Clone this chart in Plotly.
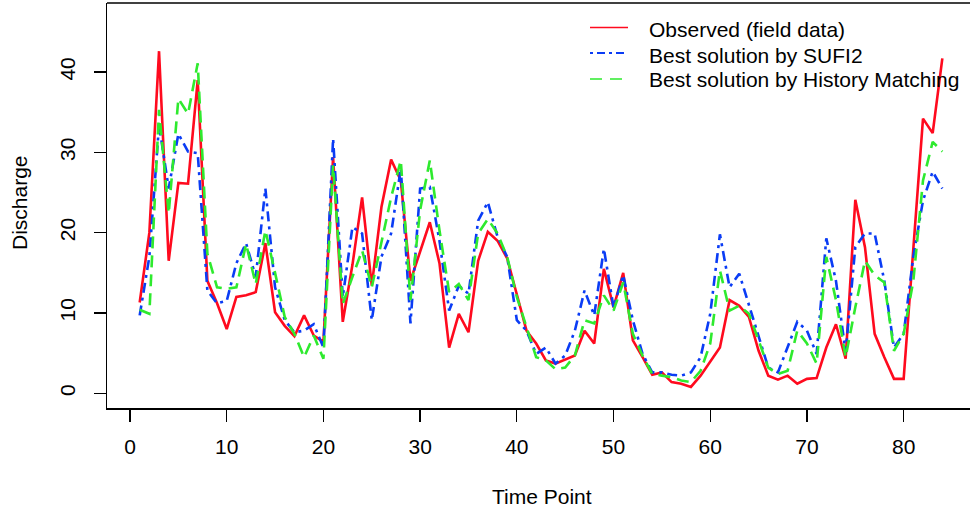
import plotly.graph_objects as go

time_point = list(range(1, 85))

observed = [11.3, 20.0, 42.6, 16.5, 26.2, 26.1, 39.0, 14.0, 11.2, 8.0,
            12.0, 12.2, 12.6, 18.7, 10.1, 8.4, 7.1, 9.7, 7.2, 6.4,
            29.4, 8.9, 16.0, 24.4, 13.4, 23.2, 29.1, 26.5, 14.0, 17.8,
            21.3, 16.2, 5.7, 9.9, 7.6, 16.5, 20.1, 19.0, 16.8, 12.3,
            7.8, 6.2, 4.1, 3.7, 4.2, 4.7, 7.8, 6.2, 15.5, 10.7,
            15.0, 6.6, 4.5, 2.3, 2.6, 1.4, 1.2, 0.8, 2.2, 4.0,
            5.7, 11.6, 10.9, 9.5, 5.3, 2.2, 1.7, 2.2, 1.2, 1.8,
            1.9, 5.7, 8.6, 4.3, 24.1, 18.2, 7.4, 4.5, 1.8, 1.8,
            18.0, 34.2, 32.4, 41.7]

sufi2 = [9.7, 17.0, 33.4, 25.5, 32.3, 30.1, 29.9, 12.8, 11.2, 11.5,
         16.2, 18.7, 14.5, 25.5, 13.2, 9.1, 7.6, 7.8, 8.6, 5.7,
         31.7, 12.0, 20.7, 19.9, 9.1, 17.0, 19.9, 28.0, 8.7, 25.5,
         25.7, 19.0, 10.3, 13.4, 12.4, 21.5, 23.8, 19.5, 17.0, 9.1,
         7.8, 4.9, 5.7, 3.7, 4.7, 7.8, 12.8, 9.7, 18.0, 10.7,
         14.7, 9.1, 4.9, 2.6, 2.6, 2.3, 2.2, 2.6, 4.5, 9.9,
         19.8, 13.2, 14.9, 11.1, 7.0, 3.2, 2.6, 5.7, 8.9, 7.8,
         4.9, 19.3, 14.0, 5.1, 18.2, 19.9, 19.9, 14.0, 5.7, 7.4,
         17.0, 24.0, 27.6, 25.5]

history_matching = [10.4, 9.9, 35.3, 22.4, 36.7, 34.8, 41.1, 17.4, 13.2, 13.0,
                    13.2, 18.6, 13.6, 20.3, 15.0, 9.5, 7.4, 4.5, 7.2, 4.3,
                    28.4, 11.1, 14.5, 17.8, 13.2, 19.0, 24.4, 29.0, 11.6, 22.8,
                    29.0, 20.3, 12.6, 13.6, 11.6, 19.9, 21.7, 19.9, 17.0, 12.0,
                    8.2, 4.5, 4.1, 3.0, 3.2, 4.7, 9.1, 8.7, 12.2, 10.3,
                    13.8, 7.4, 4.7, 2.4, 2.2, 2.0, 1.6, 1.4, 2.8, 6.2,
                    15.3, 10.3, 10.9, 9.9, 6.6, 3.2, 2.4, 2.8, 7.8, 6.2,
                    3.7, 17.0, 11.6, 4.5, 10.7, 16.5, 14.7, 13.8, 5.3, 7.4,
                    14.0, 26.5, 31.3, 30.1]

x_ticks = [0, 10, 20, 30, 40, 50, 60, 70, 80]
y_ticks = [0, 10, 20, 30, 40]

names = ["Observed (field data)", "Best solution by SUFI2", "Best solution by History Matching"]
RED = "#FF0A1E"
BLUE = "#0A3CF5"
GREEN = "#2EEA2E"
FONT = "Liberation Sans, Arial, sans-serif"
FS = 21

W, H = 970, 510
ML, MR, MT, MB = 107, 0, 3, 102
PW, PH = W - ML - MR, H - MT - MB


def px_x(px):
    return (px - ML) / PW


def px_y(py):
    return (H - MB - py) / PH


fig = go.Figure()

fig.add_trace(go.Scatter(x=time_point, y=observed, mode="lines", name=names[0], showlegend=False,
                         line=dict(color=RED, width=2.6)))
fig.add_trace(go.Scatter(x=time_point, y=sufi2, mode="lines", name=names[1], showlegend=False,
                         line=dict(color=BLUE, width=2.6, dash="10px,5px,3px,5px")))
fig.add_trace(go.Scatter(x=time_point, y=history_matching, mode="lines", name=names[2], showlegend=False,
                         line=dict(color=GREEN, width=2.6, dash="12px,7px")))

# R-style legend content (no frame)
leg_line_y = [27.5, 53, 79]
leg_text_y = [29, 55, 80]
leg_styles = [dict(color=RED, width=1.4, dash="solid"),
              dict(color=BLUE, width=2, dash="3px,4px,8px,4px"),
              dict(color=GREEN, width=1.6, dash="12px,8px")]
shapes = [dict(type="line", xref="paper", yref="paper", x0=0, x1=1.02, y0=1, y1=1,
               line=dict(color="black", width=1.5))]
annotations = []
for i in range(3):
    shapes.append(dict(type="line", xref="paper", yref="paper",
                       x0=px_x(590), x1=px_x(628), y0=px_y(leg_line_y[i]), y1=px_y(leg_line_y[i]),
                       line=leg_styles[i]))
    annotations.append(dict(text=names[i], xref="paper", yref="paper", x=px_x(647), y=px_y(leg_text_y[i]),
                            xanchor="left", yanchor="middle", showarrow=False,
                            font=dict(size=FS, family=FONT, color="black")))

annotations.append(dict(text="Time Point", xref="paper", yref="paper", x=px_x(542), y=px_y(496),
                        xanchor="center", yanchor="middle", showarrow=False,
                        font=dict(size=FS, family=FONT, color="black")))
annotations.append(dict(text="Discharge", xref="paper", yref="paper", x=px_x(19), y=px_y(203),
                        xanchor="center", yanchor="middle", showarrow=False, textangle=-90,
                        font=dict(size=FS, family=FONT, color="black")))

fig.update_layout(
    width=W, height=H,
    margin=dict(l=ML, r=MR, t=MT, b=MB),
    paper_bgcolor="white", plot_bgcolor="white",
    font=dict(family=FONT, size=FS, color="black"),
    showlegend=False,
    xaxis=dict(range=[-2.38, 86.86], tickvals=x_ticks, ticktext=[str(v) for v in x_ticks],
               automargin=False,
               showgrid=False, zeroline=False, showline=True, linecolor="black", linewidth=1.5,
               ticks="outside", ticklen=12, tickwidth=1.3, tickcolor="black",
               tickfont=dict(size=FS), ticklabelstandoff=7),
    yaxis=dict(range=[-1.83, 48.6], tickvals=y_ticks, ticktext=[str(v) for v in y_ticks],
               automargin=False,
               showgrid=False, zeroline=False, showline=True, linecolor="black", linewidth=1.5,
               ticks="outside", ticklen=12, tickwidth=1.3, tickcolor="black",
               tickfont=dict(size=FS), tickangle=-90, ticklabelstandoff=10),
    shapes=shapes,
    annotations=annotations,
)

fig.write_html("out.html",
               config={"displayModeBar": False, "staticPlot": True},
               post_script="document.body.style.margin='0';document.body.style.padding='0';"
                           "document.body.style.overflow='hidden';")
